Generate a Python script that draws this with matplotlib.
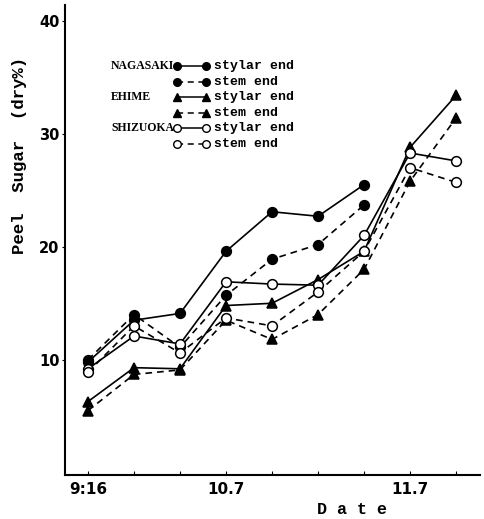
import matplotlib.pyplot as plt
from matplotlib.lines import Line2D

# sampling dates (roughly weekly), only three are labelled
dates = ["9.16", "", "", "10.7", "", "", "", "11.7", ""]
date_labels = {0: "9:16", 3: "10.7", 7: "11.7"}

nagasaki_stylar = [9.8, 13.5, 14.1, 19.6, 23.1, 22.7, 25.5, None, None]
nagasaki_stem = [10.0, 14.0, 11.1, 15.7, 18.9, 20.2, 23.7, None, None]
ehime_stylar = [6.3, 9.3, 9.2, 14.8, 15.0, 17.1, 19.6, 28.8, 33.4]
ehime_stem = [5.5, 8.7, 9.1, 13.5, 11.8, 14.0, 18.0, 25.8, 31.4]
shizuoka_stylar = [9.2, 12.1, 11.4, 16.9, 16.7, 16.6, 21.0, 28.3, 27.6]
shizuoka_stem = [8.9, 13.0, 10.6, 13.7, 13.0, 16.0, 19.6, 27.0, 25.7]

W, H = 484, 519
MONO = "Liberation Mono"


def px(x, y):
    # pixel position (from top-left) -> figure fraction
    return x / W, 1 - y / H


def series(values):
    xs = [i for i, v in enumerate(values) if v is not None]
    ys = [v for v in values if v is not None]
    return xs, ys


styles = [
    (nagasaki_stylar, "o", "black", "-"),
    (nagasaki_stem, "o", "black", (0, (4, 3))),
    (ehime_stylar, "^", "black", "-"),
    (ehime_stem, "^", "black", (0, (4, 3))),
    (shizuoka_stylar, "o", "white", "-"),
    (shizuoka_stem, "o", "white", (0, (4, 3))),
]

fig = plt.figure(figsize=(W / 100, H / 100), dpi=100)
ax = fig.add_axes([65 / W, 1 - 475 / H, (480 - 65) / W, (475 - 5) / H])

for vals, marker, face, ls in styles:
    xs, ys = series(vals)
    ax.plot(xs, ys, color="black", linestyle=ls, linewidth=1.2,
            marker=marker, markersize=7 if marker == "o" else 6.5,
            markerfacecolor=face, markeredgecolor="black", markeredgewidth=1.1)

ax.set_xlim(-0.5, 8.52)
ax.set_ylim(-0.2, 41.4)
ax.spines["top"].set_visible(False)
ax.spines["right"].set_visible(False)
ax.spines["left"].set_linewidth(1.5)
ax.spines["bottom"].set_linewidth(1.5)

ax.set_xticks(range(len(dates)))
ax.set_xticklabels([date_labels.get(i, "") for i in range(len(dates))],
                   fontsize=11, fontweight="bold", family="DejaVu Sans")
ax.tick_params(axis="x", direction="in", length=3, pad=5)
ax.set_yticks([10, 20, 30, 40])
ax.set_yticklabels(["10", "20", "30", "40"], fontsize=10.5, fontweight="bold")
ax.tick_params(axis="y", direction="out", length=2, pad=2)

fig.text(*px(20, 155), "Peel  Sugar  (dry%)", rotation=90, ha="center", va="center",
         fontsize=12.5, fontweight="bold", family=MONO)
fig.text(*px(352, 510), "D a t e", ha="center", va="center",
         fontsize=12, fontweight="bold", family=MONO)

# hand-drawn style legend
rows_y = [66, 82, 97, 113, 128, 144]
labels = ["stylar end", "stem end"] * 3
for (vals, marker, face, ls), ry, lab in zip(styles, rows_y, labels):
    x0, y0 = px(177, ry)
    x1, _ = px(206, ry)
    fig.add_artist(Line2D([x0, x1], [y0, y0], transform=fig.transFigure,
                          color="black", linestyle=ls, linewidth=1.1,
                          marker=marker, markersize=5.5,
                          markerfacecolor=face, markeredgecolor="black"))
    fig.text(*px(214, ry), lab, ha="left", va="center", fontsize=9.5,
             fontweight="bold", family=MONO)

for name, ry in zip(["NAGASAKI", "EHIME", "SHIZUOKA"], rows_y[::2]):
    fig.text(*px(111, ry), name, ha="left", va="center", fontsize=8.5,
             fontweight="bold", family="Liberation Serif")

fig.savefig("out.png", dpi=100)
